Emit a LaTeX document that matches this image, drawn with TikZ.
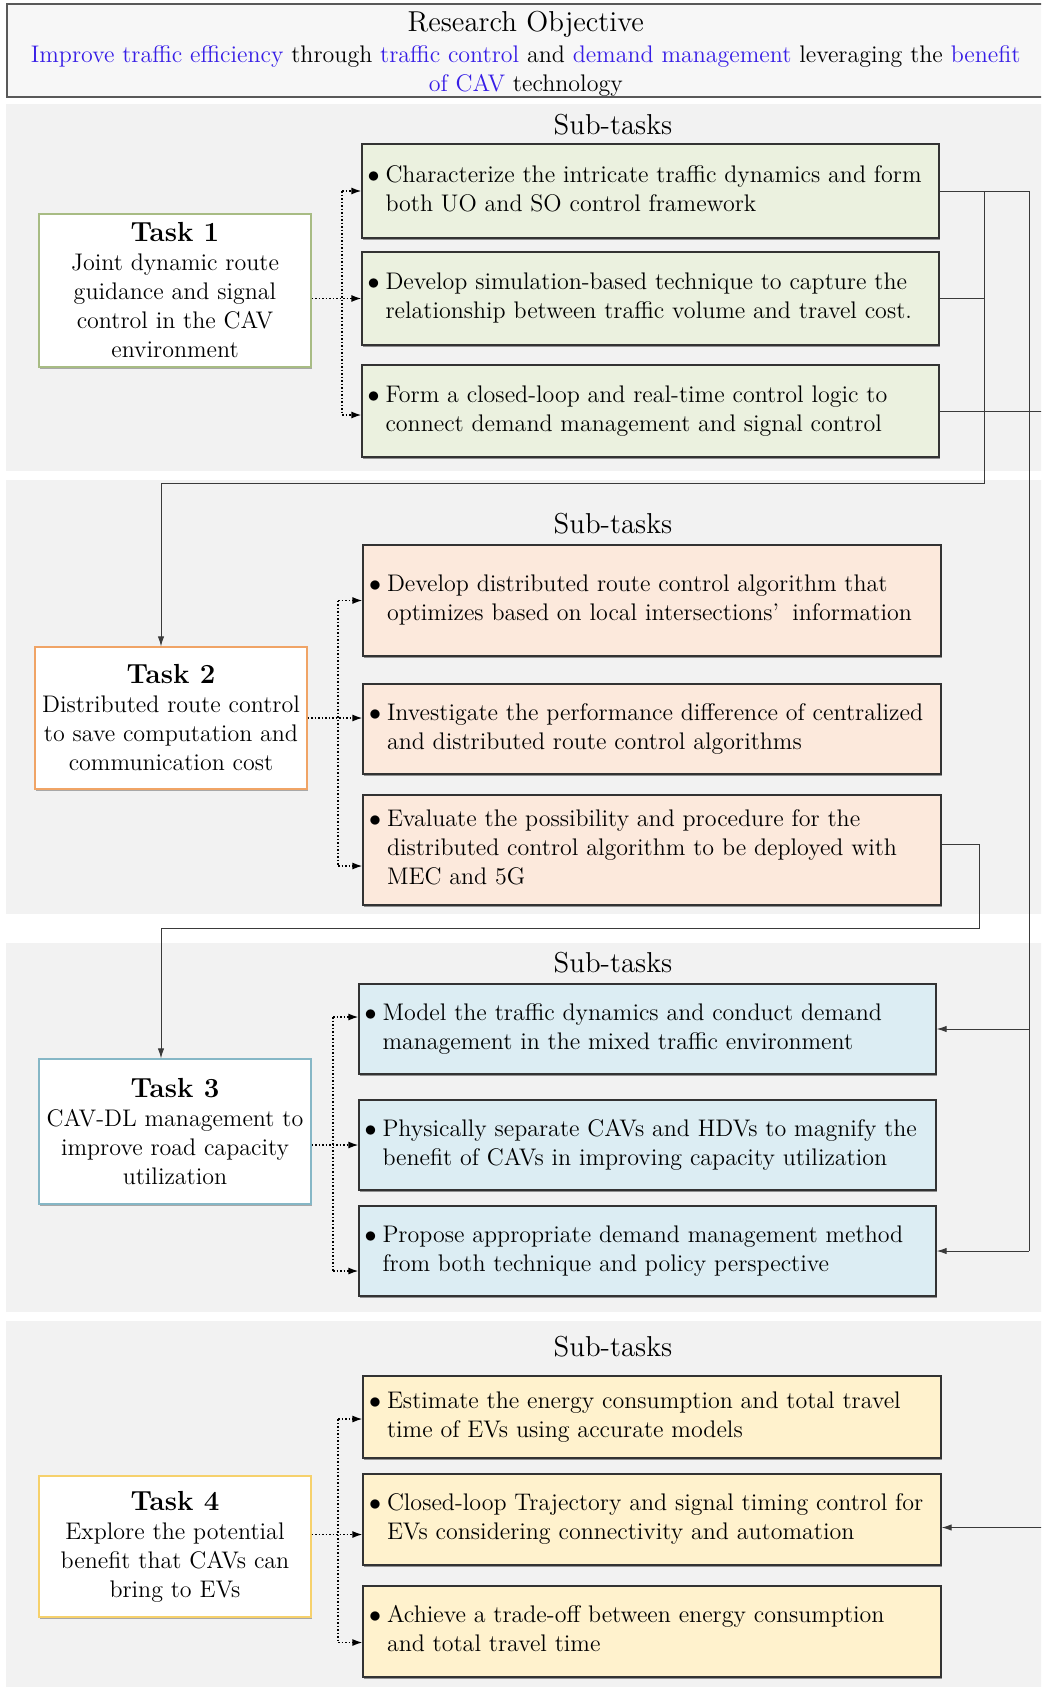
\documentclass[tikz,border=0pt]{standalone}
\usetikzlibrary{arrows.meta,shadows}

\definecolor{panelgray}{HTML}{F2F2F2}
\definecolor{objfill}{HTML}{F7F7F7}
\definecolor{objblue}{RGB}{55,30,230}
\definecolor{greenfill}{HTML}{EBF1DF}
\definecolor{greenedge}{HTML}{A8BC84}
\definecolor{orangefill}{HTML}{FCE9DC}
\definecolor{orangeedge}{HTML}{F0A466}
\definecolor{bluefill}{HTML}{DCEDF3}
\definecolor{blueedge}{HTML}{86B7C6}
\definecolor{yellowfill}{HTML}{FFF2CD}
\definecolor{yellowedge}{HTML}{F6D16C}
\definecolor{lineclr}{HTML}{3A3A3A}

\newcommand{\bodyfont}{\fontsize{12}{14.5}\selectfont}
\newcommand{\headfont}{\fontsize{14.4}{17}\selectfont}
\newcommand{\tasktitle}[1]{{\fontsize{13.8}{16.5}\selectfont\bfseries #1}}
\newcommand{\bulletlines}[1]{\makebox[283pt][l]{\begin{tabular}{@{}l@{\hspace{3pt}}l@{}}$\bullet$ & #1\end{tabular}}}
\newcommand{\hl}[1]{\textcolor{objblue}{#1}}

\tikzset{
  panel/.style={fill=panelgray, draw=none},
  objbox/.style={draw=black!65, line width=1pt, fill=objfill, align=center,
    font=\bodyfont, inner sep=0pt},
  subbox/.style={draw=black!80, line width=0.6pt, inner xsep=2.5pt, inner ysep=0pt,
    font=\bodyfont,
    drop shadow={shadow xshift=0.7pt, shadow yshift=-1.1pt, opacity=0.4, fill=black}},
  taskbox/.style={fill=white, line width=0.6pt, align=center, font=\bodyfont,
    inner sep=0pt,
    drop shadow={shadow xshift=0.7pt, shadow yshift=-1.1pt, opacity=0.3, fill=black}},
  heading/.style={font=\headfont, inner sep=0pt},
  conn/.style={draw=lineclr, line width=0.5pt},
  arr/.style={conn, -{Latex[length=5pt,width=3.2pt]}},
  dotline/.style={densely dotted, line width=0.75pt, black},
  dotarr/.style={dotline, -{Latex[length=5pt,width=3.5pt]}},
}

\begin{document}
\begin{tikzpicture}[x=0.5pt,y=-0.5pt]
\useasboundingbox (0,0) rectangle (1041,1687);
\clip (0,0) rectangle (1041,1687);
\fill[white] (0,0) rectangle (1041,1687);

% background bands, one per task
\fill[panel] (6,104) rectangle (1050,471);
\fill[panel] (6,480) rectangle (1050,914);
\fill[panel] (6,943) rectangle (1050,1312);
\fill[panel] (6,1321) rectangle (1050,1700);

% objective banner
\node[objbox, minimum width=519.25pt, minimum height=46.5pt] (obj) at (525.75,50.5)
  {{\headfont\rule{0pt}{13.2pt}Research Objective}\\[1pt]
   \hl{Improve traffic efficiency} through \hl{traffic control} and \hl{demand management} leveraging the \hl{benefit}\\
   \hl{of CAV} technology};

% headings
\node[heading] (h1) at (613,125) {Sub-tasks};
\node[heading] (h2) at (613,524) {Sub-tasks};
\node[heading] (h3) at (613,963) {Sub-tasks};
\node[heading] (h4) at (613,1347) {Sub-tasks};

% task boxes
\node[taskbox, draw=greenedge, minimum width=136pt, minimum height=76.5pt] (t1) at (175,290.5)
  {\tasktitle{Task 1}\\ Joint dynamic route\\ guidance and signal\\ control in the CAV\\ environment};
\node[taskbox, draw=orangeedge, minimum width=136pt, minimum height=71pt] (t2) at (171,718)
  {\tasktitle{Task 2}\\ Distributed route control\\ to save computation and\\ communication cost};
\node[taskbox, draw=blueedge, minimum width=136pt, minimum height=72.5pt] (t3) at (175,1131.5)
  {\tasktitle{Task 3}\\ CAV-DL management to\\ improve road capacity\\ utilization};
\node[taskbox, draw=yellowedge, minimum width=136pt, minimum height=70.5pt] (t4) at (175,1546.5)
  {\tasktitle{Task 4}\\ Explore the potential\\ benefit that CAVs can\\ bring to EVs};

% sub-task boxes, task 1
\node[subbox, fill=greenfill, minimum width=288.5pt, minimum height=47pt] (s11) at (650.5,191)
  {\bulletlines{Characterize the intricate traffic dynamics and form\\ & both UO and SO control framework}};
\node[subbox, fill=greenfill, minimum width=288.5pt, minimum height=46.5pt] (s12) at (650.5,298.5)
  {\bulletlines{Develop simulation-based technique to capture the\\ & relationship between traffic volume and travel cost.}};
\node[subbox, fill=greenfill, minimum width=288.5pt, minimum height=46pt] (s13) at (650.5,411)
  {\bulletlines{Form a closed-loop and real-time control logic to\\ & connect demand management and signal control}};

% sub-task boxes, task 2
\node[subbox, fill=orangefill, minimum width=289pt, minimum height=55.5pt] (s21) at (652,600.5)
  {\bulletlines{Develop distributed route control algorithm that\\ & optimizes based on local intersections'\hspace{0.55em}information}};
\node[subbox, fill=orangefill, minimum width=289pt, minimum height=45pt] (s22) at (652,729)
  {\bulletlines{Investigate the performance difference of centralized\\ & and distributed route control algorithms}};
\node[subbox, fill=orangefill, minimum width=289pt, minimum height=55pt] (s23) at (652,850)
  {\bulletlines{Evaluate the possibility and procedure for the\\ & distributed control algorithm to be deployed with\\ & MEC and 5G}};

% sub-task boxes, task 3
\node[subbox, fill=bluefill, minimum width=288.5pt, minimum height=45pt] (s31) at (647.5,1029)
  {\bulletlines{Model the traffic dynamics and conduct demand\\ & management in the mixed traffic environment}};
\node[subbox, fill=bluefill, minimum width=288.5pt, minimum height=45pt] (s32) at (647.5,1145)
  {\bulletlines{Physically separate CAVs and HDVs to magnify the\\ & benefit of CAVs in improving capacity utilization}};
\node[subbox, fill=bluefill, minimum width=288.5pt, minimum height=45pt] (s33) at (647.5,1251)
  {\bulletlines{Propose appropriate demand management method\\ & from both technique and policy perspective}};

% sub-task boxes, task 4
\node[subbox, fill=yellowfill, minimum width=289pt, minimum height=41pt] (s41) at (652,1417)
  {\bulletlines{Estimate the energy consumption and total travel\\ & time of EVs using accurate models}};
\node[subbox, fill=yellowfill, minimum width=289pt, minimum height=45.5pt] (s42) at (652,1519.5)
  {\bulletlines{Closed-loop Trajectory and signal timing control for\\ & EVs considering connectivity and automation}};
\node[subbox, fill=yellowfill, minimum width=289pt, minimum height=45.5pt] (s43) at (652,1631.5)
  {\bulletlines{Achieve a trade-off between energy consumption\\ & and total travel time}};

% routing columns and bends
\coordinate (b1) at (342,0);
\coordinate (b2) at (338,0);
\coordinate (b3) at (333,0);
\coordinate (b4) at (338,0);
\coordinate (ra) at (1029,0);
\coordinate (rb) at (984,0);
\coordinate (rc) at (1060,0);
\coordinate (rd) at (979,0);
\coordinate (j2) at (984,483);
\coordinate (j3) at (979,928);

% task 1 fan-out
\coordinate (q13) at ([yshift=-2pt]s13.west);
\draw[dotline] (b1 |- s11.west) -- (b1 |- q13);
\draw[dotarr] (t1.east |- s12.west) -- (s12.west);
\draw[dotarr] (b1 |- s11.west) -- (s11.west);
\draw[dotarr] (b1 |- q13) -- (q13);

% task 2 fan-out
\coordinate (q23) at ([yshift=-8pt]s23.west);
\draw[dotline] (b2 |- s21.west) -- (b2 |- q23);
\draw[dotarr] (t2.east) -- (t2.east -| s22.west);
\draw[dotarr] (b2 |- s21.west) -- (s21.west);
\draw[dotarr] (b2 |- q23) -- (q23);

% task 3 fan-out
\coordinate (q31) at ([yshift=6pt]s31.west);
\coordinate (q33) at ([yshift=-10pt]s33.west);
\draw[dotline] (b3 |- q31) -- (b3 |- q33);
\draw[dotarr] (t3.east |- s32.west) -- (s32.west);
\draw[dotarr] (b3 |- q31) -- (q31);
\draw[dotarr] (b3 |- q33) -- (q33);

% task 4 fan-out
\coordinate (q41) at ([yshift=-1pt]s41.west);
\coordinate (q42) at ([yshift=-7.5pt]s42.west);
\coordinate (q43) at ([yshift=-5.5pt]s43.west);
\draw[dotline] (b4 |- q41) -- (b4 |- q43);
\draw[dotarr] (t4.east |- q42) -- (q42);
\draw[dotarr] (b4 |- q41) -- (q41);
\draw[dotarr] (b4 |- q43) -- (q43);

% links between tasks
\draw[conn] (s11.east) -- (s11.east -| ra) -- (ra |- s33.east);
\draw[arr] (ra |- s31.east) -- (s31.east);
\draw[arr] (ra |- s33.east) -- (s33.east);
\draw[conn] (s12.east) -- (s12.east -| rb);
\draw[arr] (s11.east -| rb) -- (j2) -- ([xshift=-5pt]t2.north |- j2) -- ([xshift=-5pt]t2.north);
\coordinate (q42r) at ([yshift=-4pt]s42.east);
\draw[arr] (s13.east) -- (s13.east -| rc) -- (rc |- q42r) -- (q42r);
\coordinate (q23r) at ([yshift=3pt]s23.east);
\draw[arr] (q23r) -- (q23r -| rd) -- (j3) -- ([xshift=-7pt]t3.north |- j3) -- ([xshift=-7pt]t3.north);
\end{tikzpicture}
\end{document}
